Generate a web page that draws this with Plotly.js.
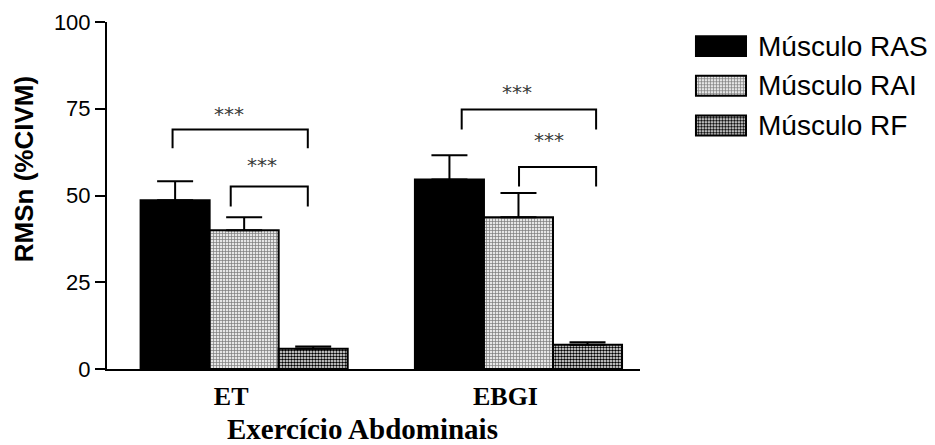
<!DOCTYPE html>
<html>
<head>
<meta charset="utf-8">
<script src="https://cdn.plot.ly/plotly-3.0.1.min.js"></script>
<style>html,body{margin:0;padding:0;background:#fff;}#chart{width:935px;height:445px;}</style>
</head>
<body>
<div id="chart"></div>
<script>
// ---- data ----
const categories = ['ET', 'EBGI'];
const seriesNames = ['Músculo RAS', 'Músculo RAI', 'Músculo RF'];
const rasValues = [48.6, 54.6];
const rasErrors = [5.5, 7.0];
const raiValues = [40.0, 43.7];
const raiErrors = [3.7, 7.0];
const rfValues = [5.8, 7.0];
const rfErrors = [0.7, 0.7];
const yTickValues = [0, 25, 50, 75, 100];
const yTickLabels = ['0', '25', '50', '75', '100'];
// significance brackets (x in category units, y in %CIVM)
const bracketLeft = [-0.261, -0.049, 0.793, 1.002];
const bracketRight = [0.232, 0.232, 1.283, 1.283];
const bracketTop = [69.0, 52.6, 74.8, 58.2];
const bracketBottom = [63.6, 46.8, 69.0, 52.6];
const bracketLabel = ['***', '***', '***', '***'];
const starX = [-0.057, 0.064, 0.995, 1.111];
const starY = [74.8, 60.3, 81.2, 67.3];

// ---- styles ----
const catPos = categories.map((c, i) => i);
const outline = {color: '#000', width: 2};
const styles = [
  {color: '#000000', pattern: {shape: ''}},
  {color: '#d8d8d8', pattern: {shape: '+', size: 3, solidity: 0.4, fgcolor: '#7a7a7a', bgcolor: '#e6e6e6', fillmode: 'replace'}},
  {color: '#808080', pattern: {shape: '.', size: 3, solidity: 0.55, fgcolor: '#000000', bgcolor: '#ffffff', fillmode: 'replace'}}
];
const values = [rasValues, raiValues, rfValues];
const errors = [rasErrors, raiErrors, rfErrors];

const traces = [];
values.forEach((v, i) => {
  traces.push({
    type: 'bar', name: seriesNames[i], x: catPos, y: v,
    marker: {color: styles[i].color, pattern: styles[i].pattern, line: outline},
    error_y: {type: 'data', symmetric: false, array: errors[i], arrayminus: v.map(() => 0),
              color: '#000', thickness: 2, width: 18},
    showlegend: false, hoverinfo: 'skip', xaxis: 'x', yaxis: 'y'
  });
});
// legend swatches drawn as bars on a tiny invisible subplot
seriesNames.forEach((n, i) => {
  traces.push({
    type: 'bar', orientation: 'h', name: n, x: [1], y: [i], width: 0.5, offset: -0.25,
    marker: {color: styles[i].color, pattern: styles[i].pattern, line: outline},
    showlegend: false, hoverinfo: 'skip', xaxis: 'x2', yaxis: 'y2'
  });
});

const shapes = bracketLeft.map((l, i) => ({
  type: 'path', xref: 'x', yref: 'y',
  path: `M${l},${bracketBottom[i]} L${l},${bracketTop[i]} L${bracketRight[i]},${bracketTop[i]} L${bracketRight[i]},${bracketBottom[i]}`,
  line: {color: '#000', width: 2}
}));

const annotations = [];
bracketLabel.forEach((t, i) => {
  annotations.push({x: starX[i], y: starY[i], xref: 'x', yref: 'y', text: t, showarrow: false, yshift: -5,
    font: {family: 'DejaVu Sans', size: 20, color: '#3a3a3a'}, xanchor: 'center', yanchor: 'middle'});
});
seriesNames.forEach((n, i) => {
  annotations.push({x: 0.7886, y: i, xref: 'paper', yref: 'y2', text: n, showarrow: false,
    xanchor: 'left', yanchor: 'middle', font: {family: 'Liberation Sans, Arial', size: 28, color: '#000'}});
});
annotations.push({x: -0.1, y: 0.575, xref: 'paper', yref: 'paper', text: 'RMSn (%CIVM)', textangle: -90,
  showarrow: false, xanchor: 'center', yanchor: 'middle',
  font: {family: 'Liberation Sans, Arial', size: 26, color: '#000', weight: 'bold'}});
annotations.push({x: 0.3105, y: -0.1729, xref: 'paper', yref: 'paper', text: 'Exercício Abdominais',
  showarrow: false, xanchor: 'center', yanchor: 'middle',
  font: {family: 'Liberation Serif, Times New Roman', size: 29, color: '#000', weight: 'bold'}});

const layout = {
  width: 935, height: 445,
  margin: {l: 107, r: 5, t: 22, b: 76},
  paper_bgcolor: '#fff', plot_bgcolor: 'rgba(0,0,0,0)',
  barmode: 'group', bargap: 0.245, bargroupgap: 0,
  showlegend: false,
  xaxis: {
    domain: [0, 0.64763], range: [-0.5, 1.443], tickvals: catPos, ticktext: categories,
    showline: true, linecolor: '#000', linewidth: 2, ticks: '', showgrid: false, zeroline: false,
    tickfont: {family: 'Liberation Serif, Times New Roman', size: 26, color: '#000', weight: 'bold'},
    ticklabelshift: -13, ticklabelstandoff: 3,
    fixedrange: true
  },
  yaxis: {
    range: [0, 100], tickvals: yTickValues, ticktext: yTickLabels,
    showline: true, linecolor: '#000', linewidth: 2, ticks: 'outside', ticklen: 10, tickwidth: 2, tickcolor: '#000',
    showgrid: false, zeroline: false,
    tickfont: {family: 'Liberation Sans, Arial', size: 22, color: '#000'},
    fixedrange: true
  },
  xaxis2: {domain: [0.7132, 0.7789], range: [-0.04, 1.04], visible: false, anchor: 'y2', fixedrange: true},
  yaxis2: {domain: [0.6444, 0.9879], range: [2.5, -0.5], visible: false, anchor: 'x2', fixedrange: true},
  shapes: shapes,
  annotations: annotations
};

Plotly.newPlot('chart', traces, layout, {displayModeBar: false, staticPlot: true});
</script>
</body>
</html>
